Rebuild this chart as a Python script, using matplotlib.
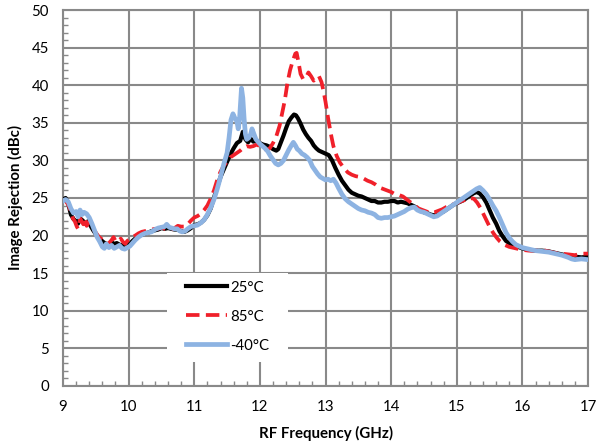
import matplotlib
matplotlib.use("Agg")
import matplotlib.pyplot as plt
from matplotlib.patches import Rectangle
from matplotlib.ticker import MultipleLocator

# RF frequency (GHz) and image rejection (dBc) for three temperatures
freq_25 = [9.00, 9.04, 9.08, 9.12, 9.16, 9.20, 9.23, 9.26, 9.30, 9.34, 9.38, 9.42, 9.46, 9.50,
           9.54, 9.58, 9.62, 9.66, 9.70, 9.74, 9.78, 9.82, 9.86, 9.90, 9.94, 9.98, 10.02, 10.06,
           10.10, 10.15, 10.20, 10.25, 10.30, 10.35, 10.40, 10.45, 10.50, 10.55, 10.60, 10.65,
           10.70, 10.75, 10.80, 10.85, 10.90, 10.95, 11.00, 11.05, 11.10, 11.15, 11.20, 11.25,
           11.30, 11.35, 11.40, 11.45, 11.50, 11.55, 11.60, 11.65, 11.70, 11.74, 11.78, 11.82,
           11.86, 11.90, 11.95, 12.00, 12.05, 12.10, 12.15, 12.20, 12.25, 12.28, 12.32, 12.36,
           12.40, 12.44, 12.48, 12.52, 12.55, 12.58, 12.62, 12.66, 12.70, 12.74, 12.78, 12.82,
           12.86, 12.90, 12.95, 13.00, 13.05, 13.10, 13.15, 13.20, 13.25, 13.30, 13.35, 13.40,
           13.45, 13.50, 13.55, 13.60, 13.65, 13.70, 13.75, 13.80, 13.85, 13.90, 13.95, 14.00,
           14.05, 14.10, 14.15, 14.20, 14.25, 14.30, 14.35, 14.40, 14.45, 14.50, 14.55, 14.60,
           14.65, 14.70, 14.75, 14.80, 14.85, 14.90, 14.95, 15.00, 15.05, 15.10, 15.15, 15.20,
           15.25, 15.30, 15.35, 15.40, 15.45, 15.50, 15.55, 15.60, 15.65, 15.70, 15.75, 15.80,
           15.85, 15.90, 16.00, 16.10, 16.20, 16.30, 16.40, 16.50, 16.60, 16.70, 16.80, 16.90,
           17.00]
rej_25 = [24.8, 25.0, 24.3, 22.8, 22.2, 21.9, 21.6, 22.3, 22.0, 21.6, 21.9, 21.3, 20.7, 20.2,
          19.8, 19.4, 19.1, 18.9, 18.8, 19.1, 18.9, 19.0, 18.8, 18.7, 18.6, 18.7, 18.9, 19.3,
          19.6, 20.0, 20.1, 20.3, 20.4, 20.6, 20.7, 20.8, 21.0, 20.9, 21.0, 20.9,
          20.8, 20.8, 20.6, 20.5, 20.7, 21.0, 21.4, 21.5, 21.7, 22.1, 22.7, 23.6,
          25.0, 26.5, 27.8, 28.8, 29.8, 30.8, 31.6, 32.3, 32.6, 33.8, 32.8, 32.4,
          32.9, 32.5, 32.6, 32.3, 32.1, 32.0, 31.8, 31.5, 31.3, 31.5, 32.4, 33.3,
          34.3, 35.2, 35.7, 36.1, 36.0, 35.6, 34.9, 34.1, 33.5, 33.0, 32.6, 32.0,
          31.6, 31.3, 31.1, 30.9, 30.7, 30.0, 29.0, 28.1, 27.3, 26.7, 26.1, 25.7,
          25.5, 25.3, 25.2, 25.0, 24.8, 24.6, 24.6, 24.4, 24.4, 24.5, 24.5, 24.6,
          24.6, 24.4, 24.5, 24.4, 24.3, 24.1, 23.9, 23.6, 23.3, 23.1, 23.0, 22.8,
          22.7, 22.8, 23.0, 23.2, 23.5, 23.8, 24.1, 24.3, 24.5, 24.7, 25.0, 25.3,
          25.6, 25.8, 25.6, 25.1, 24.4, 23.4, 22.4, 21.6, 20.6, 19.9, 19.3, 19.0,
          18.8, 18.6, 18.3, 18.1, 18.0, 18.0, 17.9, 17.7, 17.5, 17.3, 17.2, 17.1,
          17.2]

freq_85 = [9.00, 9.04, 9.08, 9.12, 9.15, 9.18, 9.21, 9.23, 9.26, 9.29, 9.31, 9.33, 9.36, 9.40,
           9.43, 9.46, 9.50, 9.54, 9.58, 9.62, 9.66, 9.70, 9.74, 9.77, 9.80, 9.84, 9.88, 9.92,
           9.95, 9.98, 10.02, 10.06, 10.10, 10.15, 10.20, 10.25, 10.30, 10.35, 10.40, 10.45,
           10.50, 10.55, 10.60, 10.65, 10.70, 10.75, 10.80, 10.85, 10.90, 10.95, 11.00, 11.05,
           11.10, 11.15, 11.20, 11.25, 11.30, 11.35, 11.40, 11.45, 11.50, 11.55, 11.60, 11.65,
           11.70, 11.75, 11.80, 11.85, 11.90, 11.95, 12.00, 12.05, 12.10, 12.15, 12.20, 12.25,
           12.30, 12.34, 12.38, 12.42, 12.46, 12.50, 12.54, 12.56, 12.59, 12.62, 12.66, 12.70,
           12.74, 12.78, 12.82, 12.86, 12.90, 12.94, 12.97, 13.00, 13.04, 13.08, 13.12, 13.17,
           13.22, 13.28, 13.34, 13.40, 13.46, 13.52, 13.58, 13.64, 13.70, 13.76, 13.82, 13.88,
           13.94, 14.00, 14.06, 14.12, 14.18, 14.24, 14.30, 14.36, 14.42, 14.48, 14.54, 14.60,
           14.66, 14.72, 14.78, 14.84, 14.90, 14.96, 15.02, 15.08, 15.14, 15.20, 15.26, 15.31,
           15.36, 15.41, 15.46, 15.51, 15.56, 15.61, 15.66, 15.72, 15.80, 15.90, 16.00, 16.10,
           16.20, 16.30, 16.40, 16.50, 16.60, 16.70, 16.80, 16.90, 17.00]
rej_85 = [24.8, 24.6, 24.1, 23.2, 22.3, 21.9, 21.2, 20.9, 22.3, 21.8, 21.5, 22.3, 21.3, 21.9,
          21.2, 20.9, 20.4, 19.9, 19.6, 19.3, 18.9, 19.0, 19.4, 19.8, 19.3, 19.2, 19.6, 19.1,
          18.9, 19.3, 19.5, 19.8, 20.0, 20.3, 20.5, 20.6, 20.7, 20.8, 20.9, 20.9,
          21.1, 20.9, 20.9, 20.8, 21.0, 21.3, 21.2, 21.2, 21.5, 22.0, 22.4, 22.6,
          22.9, 23.4, 24.0, 24.9, 26.0, 27.4, 28.5, 29.3, 29.8, 30.4, 30.7, 31.0,
          31.3, 31.7, 31.9, 31.8, 31.9, 32.1, 31.9, 31.6, 31.4, 31.6, 32.3, 33.2,
          34.6, 36.3, 38.0, 40.3, 42.0, 43.2, 44.2, 44.3, 43.0, 41.5, 40.8, 41.0,
          41.7, 41.2, 40.6, 41.0, 41.2, 40.4, 39.2, 37.8, 35.6, 33.6, 31.9, 30.6,
          29.7, 29.0, 28.4, 28.1, 27.9, 27.8, 27.6, 27.3, 27.1, 26.8, 26.4, 26.2,
          26.0, 25.8, 25.5, 25.4, 25.2, 24.8, 24.4, 24.0, 23.6, 23.4, 23.2, 23.0,
          23.1, 23.3, 23.5, 23.8, 24.0, 24.2, 24.4, 24.6, 24.8, 25.0, 24.9, 24.4,
          23.7, 22.8, 21.9, 21.0, 20.3, 19.7, 19.2, 18.8, 18.5, 18.3, 18.1, 18.0,
          18.0, 18.1, 17.9, 17.7, 17.6, 17.5, 17.4, 17.6, 17.6]

freq_m40 = [9.00, 9.04, 9.08, 9.12, 9.16, 9.20, 9.23, 9.26, 9.29, 9.32, 9.36, 9.40, 9.44, 9.48,
            9.52, 9.56, 9.60, 9.63, 9.66, 9.70, 9.74, 9.78, 9.82, 9.86, 9.90, 9.94, 9.98, 10.02,
            10.06, 10.10, 10.15, 10.20, 10.25, 10.30, 10.35, 10.40, 10.45, 10.50, 10.55, 10.58,
            10.62, 10.66, 10.70, 10.74, 10.78, 10.82, 10.86, 10.90, 10.95, 11.00, 11.05, 11.10,
            11.15, 11.20, 11.25, 11.30, 11.35, 11.40, 11.45, 11.50, 11.53, 11.56, 11.59, 11.62,
            11.65, 11.67, 11.69, 11.71, 11.72, 11.74, 11.76, 11.78, 11.80, 11.83, 11.86, 11.88,
            11.91, 11.94, 11.97, 12.00, 12.04, 12.08, 12.12, 12.16, 12.20, 12.24, 12.28, 12.32,
            12.36, 12.40, 12.44, 12.48, 12.51, 12.54, 12.57, 12.60, 12.64, 12.68, 12.72, 12.76,
            12.80, 12.84, 12.88, 12.92, 12.96, 13.00, 13.04, 13.08, 13.12, 13.16, 13.20, 13.25,
            13.30, 13.35, 13.40, 13.45, 13.50, 13.55, 13.60, 13.65, 13.70, 13.75, 13.80, 13.85,
            13.90, 13.95, 14.00, 14.05, 14.10, 14.15, 14.20, 14.25, 14.30, 14.35, 14.40, 14.45,
            14.50, 14.55, 14.60, 14.65, 14.70, 14.75, 14.80, 14.85, 14.90, 14.95, 15.00, 15.05,
            15.10, 15.15, 15.20, 15.25, 15.30, 15.35, 15.40, 15.45, 15.50, 15.55, 15.60, 15.65,
            15.70, 15.75, 15.80, 15.85, 15.90, 15.95, 16.00, 16.10, 16.20, 16.30, 16.40, 16.50,
            16.60, 16.70, 16.75, 16.80, 16.90, 17.00]
rej_m40 = [24.6, 24.8, 24.5, 23.6, 23.0, 23.2, 22.5, 23.4, 22.8, 23.1, 22.9, 22.4, 21.6, 20.7,
           19.8, 19.2, 18.5, 18.3, 18.9, 18.4, 18.7, 18.3, 18.5, 18.7, 18.3, 18.2, 18.4, 18.6,
           19.0, 19.4, 19.8, 20.1, 20.3, 20.4, 20.5, 20.8, 21.0, 21.1, 21.2, 21.5,
           21.1, 21.0, 20.9, 20.9, 20.6, 20.5, 20.6, 20.9, 21.2, 21.3, 21.4, 21.7,
           22.1, 22.8, 23.7, 24.8, 26.2, 27.8, 29.5, 31.0, 33.0, 35.4, 36.2, 35.6,
           35.2, 34.2, 35.5, 38.2, 39.6, 38.3, 35.5, 33.5, 32.8, 33.0, 33.5, 34.2,
           33.5, 32.8, 32.5, 32.2, 31.9, 31.6, 31.2, 30.6, 30.1, 29.6, 29.4, 29.6,
           30.0, 30.7, 31.4, 32.0, 32.4, 32.0, 31.5, 31.3, 30.9, 30.7, 30.4, 30.0,
           29.2, 28.7, 28.2, 27.8, 27.6, 27.4, 27.5, 27.3, 27.5, 27.0, 26.3, 25.5,
           24.9, 24.5, 24.2, 23.9, 23.6, 23.4, 23.3, 23.1, 23.0, 22.8, 22.4, 22.3,
           22.4, 22.4, 22.5, 22.6, 22.8, 23.0, 23.2, 23.5, 23.7, 23.8, 23.4, 23.2,
           23.1, 22.9, 22.7, 22.5, 22.6, 22.9, 23.2, 23.5, 23.8, 24.1, 24.4, 24.7,
           25.0, 25.3, 25.6, 25.9, 26.2, 26.4, 26.0, 25.5, 24.8, 24.0, 23.3, 22.4,
           21.4, 20.4, 19.7, 19.2, 18.8, 18.6, 18.4, 18.2, 18.0, 17.9, 17.8, 17.6,
           17.4, 17.1, 16.9, 16.8, 16.9, 16.8]

series_labels = ["25\u00b0C", "85\u00b0C", "-40\u00b0C"]

plt.rcParams["font.family"] = ["Lato", "DejaVu Sans"]

GRID = "#898989"
FS = 10.8

fig = plt.figure(figsize=(5.96, 4.47), dpi=100)
ax = fig.add_axes([0.1057, 0.1365, 0.8809, 0.8411])

l25, = ax.plot(freq_25, rej_25, color="black", lw=3.0, zorder=3,
               solid_joinstyle="round", label=series_labels[0])
l85, = ax.plot(freq_85, rej_85, color="#F0202A", lw=2.7, zorder=4,
               dashes=(3.6, 1.7), label=series_labels[1])
lm40, = ax.plot(freq_m40, rej_m40, color="#8DB3E2", lw=3.4, zorder=5,
                solid_joinstyle="round", label=series_labels[2])

ax.set_xlim(9, 17)
ax.set_ylim(0, 50)
ax.xaxis.set_major_locator(MultipleLocator(1))
ax.xaxis.set_minor_locator(MultipleLocator(0.2))
ax.yaxis.set_major_locator(MultipleLocator(5))
ax.yaxis.set_minor_locator(MultipleLocator(1))

ax.set_axisbelow(True)
ax.grid(which="major", color=GRID, lw=1.5)
for s in ax.spines.values():
    s.set_color(GRID)
    s.set_linewidth(1.5)

ax.tick_params(which="major", length=0, labelsize=FS, pad=10, colors="black")
ax.tick_params(axis="x", which="major", pad=10)
ax.tick_params(which="minor", direction="in", length=3.5, width=1, color=GRID)

ax.set_xlabel("RF Frequency (GHz)", fontsize=FS, fontweight="bold", labelpad=9)
ax.set_ylabel("Image Rejection (dBc)", fontsize=FS, fontweight="bold", labelpad=6)

# white backing behind the legend entries
ax.add_patch(Rectangle((0.198, 0.064), 0.231, 0.237, transform=ax.transAxes,
                       facecolor="white", edgecolor="none", zorder=1))
ax.legend(handles=[l25, l85, lm40], loc="upper left", bbox_to_anchor=(0.226, 0.292),
          frameon=False, fontsize=FS, handlelength=2.7, handletextpad=0.25,
          labelspacing=1.0, borderaxespad=0, borderpad=0.3)

fig.savefig("out.png", dpi=100)
